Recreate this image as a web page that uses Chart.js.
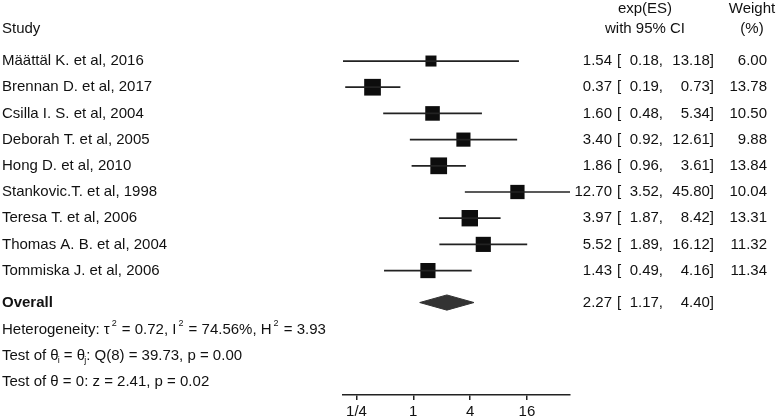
<!DOCTYPE html>
<html><head><meta charset="utf-8">
<script src="https://cdn.jsdelivr.net/npm/chart.js@4.4.1/dist/chart.umd.min.js"></script>
<style>html,body{margin:0;padding:0;background:#fff}#wrap{width:778px;height:419px;position:relative}</style>
</head><body><div id="wrap"><canvas id="c"></canvas></div>
<script>
// ---- data ----
const studies = ['Määttäl K. et al, 2016','Brennan D. et al, 2017','Csilla I. S. et al, 2004','Deborah T. et al, 2005','Hong D. et al, 2010','Stankovic.T. et al, 1998','Teresa T. et al, 2006','Thomas A. B. et al, 2004','Tommiska J. et al, 2006'];
const effect = [1.54, 0.37, 1.60, 3.40, 1.86, 12.70, 3.97, 5.52, 1.43];
const lower  = [0.18, 0.19, 0.48, 0.92, 0.96, 3.52, 1.87, 1.89, 0.49];
const upper  = [13.18, 0.73, 5.34, 12.61, 3.61, 45.80, 8.42, 16.12, 4.16];
const weight = [6.00, 13.78, 10.50, 9.88, 13.84, 10.04, 13.31, 11.32, 11.34];
const overallEffect = [2.27, 1.17, 4.40]; // estimate, lower, upper
const tickValues = [0.25, 1, 4, 16];
const tickLabels = ['1/4', '1', '4', '16'];
const heterogeneity = ['0.72', '74.56%', '3.93']; // tau2, I2, H2
const testHomog = ['8', '39.73', '0.00'];          // df, Q, p
const testEffect = ['2.41', '0.02'];               // z, p

// ---- layout (row units on the y scale) ----
const ROW_HDR1 = -1.0, ROW_HDR2 = -0.23;
const rowOf = i => i + 1;
const ROW_OVERALL = 10.22, ROW_HET = 11.28, ROW_Q = 12.27, ROW_Z = 13.24;
const DIAMOND_H = 0.29;

const lineColor = '#222';
const ciSets = studies.map((s, i) => ({
  type: 'line',
  data: [{x: lower[i], y: rowOf(i)}, {x: upper[i], y: rowOf(i)}],
  borderColor: lineColor, borderWidth: 1.7, pointRadius: 0, fill: false, tension: 0
}));
const squares = {
  type: 'line', showLine: false,
  data: effect.map((v, i) => ({x: v, y: rowOf(i)})),
  pointStyle: 'rect',
  pointRadius: weight.map(w => 4.5 * Math.sqrt(w) / Math.SQRT2),
  backgroundColor: '#0d0d0d', borderColor: '#0d0d0d', borderWidth: 0
};
const [oe, ol, ou] = overallEffect;
const diamond = {
  type: 'line',
  data: [{x: ol, y: ROW_OVERALL}, {x: oe, y: ROW_OVERALL - DIAMOND_H}, {x: ou, y: ROW_OVERALL}, {x: oe, y: ROW_OVERALL + DIAMOND_H}, {x: ol, y: ROW_OVERALL}],
  borderColor: '#333', backgroundColor: '#333', borderWidth: 1, pointRadius: 0, fill: 'shape', tension: 0
};

const FAM = '"Liberation Sans", Arial, Helvetica, sans-serif';
const FONT = '15px ' + FAM;
const BOLD = 'bold 15px ' + FAM;
const SMALL = '9px ' + FAM;
const COL = {left: 2, es: 612, br: 617, lo: 663, hi: 714, w: 767, hdrES: 645, hdrW: 752};

function rich(ctx, parts, x, y) {
  let cx = x;
  ctx.textAlign = 'left';
  for (const [t, m] of parts) {
    if (m === 'sup') { ctx.font = SMALL; ctx.fillText(t, cx + 2, y - 7); cx += ctx.measureText(t).width + 3; }
    else if (m === 'sub') { ctx.font = SMALL; ctx.fillText(t, cx - 1, y + 4); cx += ctx.measureText(t).width - 1; }
    else { ctx.font = FONT; ctx.fillText(t, cx, y); cx += ctx.measureText(t).width; }
  }
}

const textPlugin = {
  id: 'forestText',
  afterDraw(chart) {
    const ctx = chart.ctx, ys = chart.scales.y;
    const Y = v => ys.getPixelForValue(v);
    ctx.save();
    ctx.fillStyle = '#111';
    ctx.textBaseline = 'middle';
    ctx.font = FONT;
    ctx.textAlign = 'left';
    ctx.fillText('Study', COL.left, Y(ROW_HDR2));
    ctx.textAlign = 'center';
    ctx.fillText('exp(ES)', COL.hdrES, Y(ROW_HDR1));
    ctx.fillText('with 95% CI', COL.hdrES, Y(ROW_HDR2));
    ctx.fillText('Weight', COL.hdrW, Y(ROW_HDR1));
    ctx.fillText('(%)', COL.hdrW, Y(ROW_HDR2));
    const statRow = (y, e, l, u, w) => {
      ctx.textAlign = 'right'; ctx.fillText(e.toFixed(2), COL.es, y);
      ctx.textAlign = 'left'; ctx.fillText('[', COL.br, y);
      ctx.textAlign = 'right'; ctx.fillText(l.toFixed(2) + ',', COL.lo, y);
      ctx.fillText(u.toFixed(2) + ']', COL.hi, y);
      if (w !== undefined) ctx.fillText(w.toFixed(2), COL.w, y);
    };
    studies.forEach((s, i) => {
      const y = Y(rowOf(i));
      ctx.textAlign = 'left'; ctx.fillText(s, COL.left, y);
      statRow(y, effect[i], lower[i], upper[i], weight[i]);
    });
    const yo = Y(ROW_OVERALL);
    ctx.font = BOLD; ctx.textAlign = 'left'; ctx.fillText('Overall', COL.left, yo);
    ctx.font = FONT;
    statRow(yo, oe, ol, ou);
    rich(ctx, [['Heterogeneity: τ'], ['2', 'sup'], [' = ' + heterogeneity[0] + ', I'], ['2', 'sup'], [' = ' + heterogeneity[1] + ', H'], ['2', 'sup'], [' = ' + heterogeneity[2]]], COL.left, Y(ROW_HET));
    rich(ctx, [['Test of θ'], ['i', 'sub'], [' = θ'], ['j', 'sub'], [': Q(' + testHomog[0] + ') = ' + testHomog[1] + ', p = ' + testHomog[2]]], COL.left, Y(ROW_Q));
    rich(ctx, [['Test of θ = 0: z = ' + testEffect[0] + ', p = ' + testEffect[1]]], COL.left, Y(ROW_Z));
    ctx.restore();
  }
};

new Chart(document.getElementById('c'), {
  type: 'line',
  data: {datasets: [...ciSets, squares, diamond]},
  options: {
    responsive: true, maintainAspectRatio: false, animation: false,
    layout: {autoPadding: false, padding: {left: 343, right: 208, top: 0, bottom: -5}},
    plugins: {legend: {display: false}, tooltip: {enabled: false}},
    scales: {
      x: {
        type: 'logarithmic',
        min: Math.min(...lower), max: Math.max(...upper),
        afterBuildTicks: sc => { sc.ticks = tickValues.map(v => ({value: v})); },
        ticks: {autoSkip: false, maxRotation: 0, padding: 3, color: '#111',
          font: {family: FAM, size: 15},
          callback: (v, i) => tickLabels[i]},
        grid: {drawOnChartArea: false, drawTicks: true, tickLength: 5, color: '#222', lineWidth: 1.5},
        border: {display: true, color: '#222', width: 1.5}
      },
      y: {type: 'linear', display: false, reverse: true, min: -1.33, max: 13.75}
    }
  },
  plugins: [textPlugin]
});
</script>
</body></html>
